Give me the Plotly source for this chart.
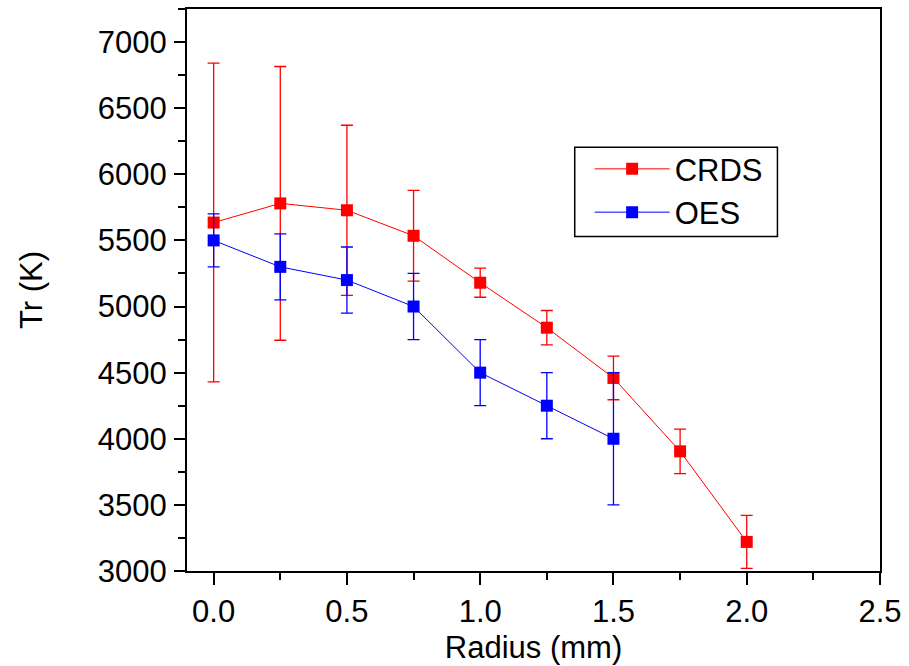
import plotly.graph_objects as go

radius_crds = [0.0, 0.25, 0.5, 0.75, 1.0, 1.25, 1.5, 1.75, 2.0]
tr_crds = [5635, 5780, 5728, 5535, 5180, 4840, 4460, 3905, 3220]
err_crds = [1205, 1035, 643, 343, 110, 130, 165, 168, 200]

radius_oes = [0.0, 0.25, 0.5, 0.75, 1.0, 1.25, 1.5]
tr_oes = [5500, 5300, 5200, 5000, 4500, 4250, 4000]
err_oes = [200, 250, 250, 250, 250, 250, 500]

FONT = "Liberation Sans, Arial, sans-serif"

fig = go.Figure()
fig.add_trace(go.Scatter(
    x=radius_crds, y=tr_crds, name="CRDS", mode="lines+markers",
    line=dict(color="#ff0000", width=1),
    marker=dict(symbol="square", size=12, color="#ff0000"),
    error_y=dict(type="data", array=err_crds, visible=True, color="#ff0000", thickness=1.3, width=6),
))
fig.add_trace(go.Scatter(
    x=radius_oes, y=tr_oes, name="OES", mode="lines+markers",
    line=dict(color="#0000ff", width=1),
    marker=dict(symbol="square", size=12, color="#0000ff"),
    error_y=dict(type="data", array=err_oes, visible=True, color="#0000ff", thickness=1.3, width=6),
))

fig.update_layout(
    width=909, height=666,
    margin=dict(l=187, r=25, t=7, b=93),
    plot_bgcolor="white", paper_bgcolor="white",
    font=dict(family=FONT, size=31, color="black"),
    showlegend=True,
    legend=dict(x=0.581, y=0.763, xanchor="left", yanchor="top",
                borderwidth=0, bgcolor="rgba(0,0,0,0)",
                font=dict(size=31), itemwidth=75, tracegroupgap=0),
    shapes=[dict(type="rect", xref="paper", yref="paper",
                 x0=0.5595, x1=0.852, y0=0.595, y1=0.754,
                 line=dict(color="black", width=1.5), fillcolor="rgba(0,0,0,0)",
                 layer="above")],
)
fig.update_xaxes(
    range=[-0.1, 2.5], tick0=0, dtick=0.5, tickformat=".1f",
    showgrid=False, zeroline=False,
    showline=True, linecolor="black", linewidth=2, mirror=True,
    ticks="outside", ticklen=12, tickwidth=2, tickcolor="black",
    minor=dict(ticks="outside", ticklen=7, tickwidth=2, dtick=0.25, tick0=0, tickcolor="black"),
    title=dict(text="Radius (mm)", font=dict(size=31), standoff=8),
    tickfont=dict(size=31),
)
fig.update_yaxes(
    range=[3000, 7250], tick0=3000, dtick=500,
    showgrid=False, zeroline=False,
    showline=True, linecolor="black", linewidth=2, mirror=True,
    ticks="outside", ticklen=11, tickwidth=2, tickcolor="black",
    ticklabelstandoff=1,
    minor=dict(ticks="outside", ticklen=7, tickwidth=2, dtick=250, tick0=3000, tickcolor="black"),
    title=dict(text="Tr (K)", font=dict(size=31), standoff=46),
    tickfont=dict(size=31),
)

fig.write_html("out.html", config={"displayModeBar": False},
               post_script="document.body.style.margin='0';document.body.style.overflow='hidden';")
